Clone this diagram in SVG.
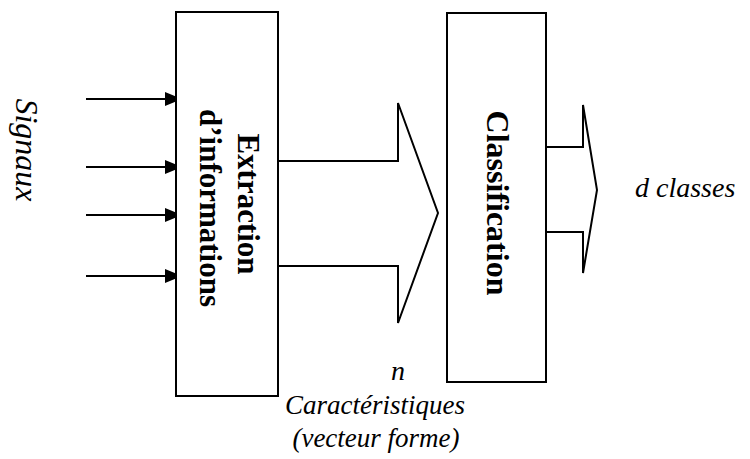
<svg xmlns="http://www.w3.org/2000/svg" width="750" height="459" viewBox="0 0 750 459">
<style>
.box{fill:#fff;stroke:#000;stroke-width:2}
.bigarrow{fill:#fff;stroke:#000;stroke-width:2;stroke-linejoin:miter}
.sig{stroke:#000;stroke-width:2;fill:none}
</style>
<defs>
<marker id="ah" markerUnits="userSpaceOnUse" markerWidth="18" markerHeight="16" refX="17" refY="8" orient="auto">
<path d="M0,1 L17,8 L0,15 Z" fill="#000"/>
</marker>
</defs>
<rect width="750" height="459" fill="#fff"/>
<g id="connectors">
<line class="sig" x1="86" y1="99" x2="182" y2="99" marker-end="url(#ah)"/>
<line class="sig" x1="86" y1="167" x2="182" y2="167" marker-end="url(#ah)"/>
<line class="sig" x1="86" y1="215" x2="182" y2="215" marker-end="url(#ah)"/>
<line class="sig" x1="86" y1="276" x2="182" y2="276" marker-end="url(#ah)"/>
<path id="arrow-features" class="bigarrow" d="M278,161 L398,161 L398,103 L438,213 L398,323 L398,266 L278,266"/>
<path id="arrow-classes" class="bigarrow" d="M547,147 L583,147 L583,105 L597,190 L583,273 L583,232 L547,232"/>
</g>
<g id="signaux" font-family="Liberation Serif, Times New Roman, serif" font-style="italic" font-size="32">
<text text-anchor="middle" transform="translate(16,150) rotate(90)">Signaux</text>
</g>
<g id="extraction">
<rect class="box" x="176" y="12" width="102" height="384"/>
<g font-family="Liberation Serif, Times New Roman, serif" font-weight="bold" font-size="31" text-anchor="middle">
<text transform="translate(238,204) rotate(90)">Extraction</text>
<text transform="translate(200,208) rotate(90)">d’informations</text>
</g>
</g>
<g id="classification">
<rect class="box" x="447" y="13" width="99" height="369"/>
<text font-family="Liberation Serif, Times New Roman, serif" font-weight="bold" font-size="32" text-anchor="middle" transform="translate(487,203) rotate(90)">Classification</text>
</g>
<g id="label-classes" font-family="Liberation Serif, Times New Roman, serif" font-style="italic">
<text font-size="28" x="635" y="197">d classes</text>
</g>
<g id="label-features" font-family="Liberation Serif, Times New Roman, serif" font-style="italic">
<text font-size="28" x="398" y="380" text-anchor="middle">n</text>
<text font-size="27" x="375" y="414" text-anchor="middle">Caractéristiques</text>
<text font-size="27" x="376" y="447" text-anchor="middle">(vecteur forme)</text>
</g>
</svg>
